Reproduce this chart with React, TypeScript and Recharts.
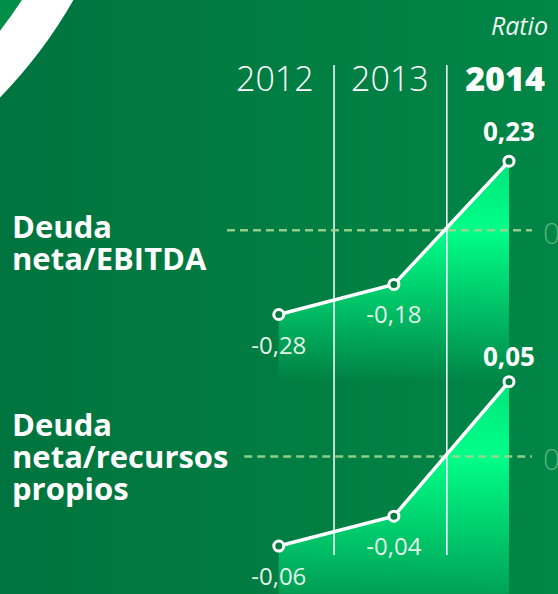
import { ComposedChart, Area, Line, XAxis, YAxis, ReferenceLine, LabelList } from 'recharts'

const years = [2012, 2013, 2014]
const ebitda = [-0.28, -0.18, 0.23]
const recursos = [-0.06, -0.04, 0.05]
// column separators sit between the year headers
const dividers = [2012.48, 2013.46]

const data = years.map((year, i) => ({ year, ebitda: ebitda[i], recursos: recursos[i] }))

const FONT = '"Open Sans", sans-serif'
const fmt = (v: number) => v.toFixed(2).replace('.', ',')

const YearTick = (props: any) => {
  const { x, y, payload } = props
  const bold = payload.value === years[years.length - 1]
  return (
    <text x={x} y={y} dx={-4} dy={34} textAnchor="middle" fill="#fff" fontSize={34}
      fontWeight={bold ? 800 : 300} fontFamily={FONT}>
      {payload.value}
    </text>
  )
}

// last value goes above the point in bold, the others below
const valueLabel = (above: number) => (props: any) => {
  const x = props.x ?? props.viewBox?.x
  const y = props.y ?? props.viewBox?.y
  const last = props.index === years.length - 1
  return (
    <text x={x} y={last ? y - above : y + 39} textAnchor="middle"
      fill={last ? '#fff' : '#e2f3e7'} fontSize={last ? 26 : 24}
      fontWeight={last ? 700 : 400} fontFamily={FONT}>
      {fmt(Number(props.value))}
    </text>
  )
}

const ZeroLabel = (props: any) => {
  const vb = props.viewBox || {}
  return (
    <text x={(vb.x ?? 0) + (vb.width ?? 0) + 11} y={(vb.y ?? 0) + (vb.height ?? 0) / 2} dy={14}
      fill="#58b377" fontSize={30} fontWeight={300} fontFamily={FONT}>0</text>
  )
}

export default function App() {
  return (
    <div style={{ position: 'absolute', left: 0, top: 0, width: 558, height: 594, overflow: 'hidden',
      background: 'linear-gradient(90deg, #00743e 0%, #007d42 50%, #008647 100%)', fontFamily: FONT }}>
      <div style={{ position: 'absolute', left: -831, top: -724, width: 968, height: 968, borderRadius: '50%',
        border: '44px solid #fff', boxSizing: 'border-box', background: '#008e49' }} />
      <div style={{ position: 'absolute', right: 10, top: 13, fontSize: 25, lineHeight: '25px',
        fontStyle: 'italic', color: '#eef7f1' }}>Ratio</div>
      <div style={{ position: 'absolute', left: 12, top: 210, fontSize: 31, lineHeight: '32px',
        fontWeight: 700, color: '#fff' }}>Deuda<br />neta/EBITDA</div>
      <div style={{ position: 'absolute', left: 12, top: 408, fontSize: 31, lineHeight: '32px',
        fontWeight: 700, color: '#fff' }}>Deuda<br />neta/recursos<br />propios</div>

      <div style={{ position: 'absolute', left: 0, top: 0 }}>
        <ComposedChart width={558} height={594} data={data} margin={{ top: 35, right: 26, bottom: 39, left: 227 }}>
          <defs>
            <linearGradient id="fillA" x1="0" y1="0" x2="0" y2="1">
              <stop offset="0%" stopColor="#00e47c" stopOpacity={1} />
              <stop offset="32%" stopColor="#00ff88" stopOpacity={1} />
              <stop offset="100%" stopColor="#00ff88" stopOpacity={0.02} />
            </linearGradient>
            <linearGradient id="fillB" x1="0" y1="0" x2="0" y2="1">
              <stop offset="0%" stopColor="#00e47c" stopOpacity={1} />
              <stop offset="35%" stopColor="#00ff88" stopOpacity={1} />
              <stop offset="100%" stopColor="#00ff88" stopOpacity={0.25} />
            </linearGradient>
          </defs>
          <XAxis dataKey="year" type="number" orientation="top" height={30} domain={[2011.55, 2014.2]}
            ticks={years} axisLine={false} tickLine={false} tick={<YearTick />} interval={0} />
          <YAxis yAxisId="a" domain={[-1.08, 0.55]} hide />
          <YAxis yAxisId="b" domain={[-0.066, 0.262]} hide />

          <Area yAxisId="a" dataKey="ebitda" type="linear" baseValue={-0.5} stroke="none"
            fill="url(#fillA)" fillOpacity={1} isAnimationActive={false} />
          <Area yAxisId="b" dataKey="recursos" type="linear" baseValue={-0.092} stroke="none"
            fill="url(#fillB)" fillOpacity={1} isAnimationActive={false} />

          {dividers.map(d => (
            <ReferenceLine key={d} yAxisId="a" x={d} stroke="#fff" strokeWidth={1.5} />
          ))}
          <ReferenceLine yAxisId="a" y={0} stroke="#9fd68f" strokeOpacity={0.9} strokeWidth={2.5}
            strokeDasharray="8 5" label={<ZeroLabel />} />
          <ReferenceLine yAxisId="b" segment={[{ x: 2011.7, y: 0 }, { x: 2014.2, y: 0 }]} stroke="#9fd68f"
            strokeOpacity={0.9} strokeWidth={2.5} strokeDasharray="8 5" label={<ZeroLabel />} />

          <Line yAxisId="a" dataKey="ebitda" type="linear" stroke="#fff" strokeWidth={3.5}
            dot={{ r: 5, fill: '#007a3f', stroke: '#fff', strokeWidth: 3 }} activeDot={false}
            isAnimationActive={false}>
            <LabelList dataKey="ebitda" content={valueLabel(20)} />
          </Line>
          <Line yAxisId="b" dataKey="recursos" type="linear" stroke="#fff" strokeWidth={3.5}
            dot={{ r: 5, fill: '#007a3f', stroke: '#fff', strokeWidth: 3 }} activeDot={false}
            isAnimationActive={false}>
            <LabelList dataKey="recursos" content={valueLabel(16)} />
          </Line>
        </ComposedChart>
      </div>
    </div>
  )
}
